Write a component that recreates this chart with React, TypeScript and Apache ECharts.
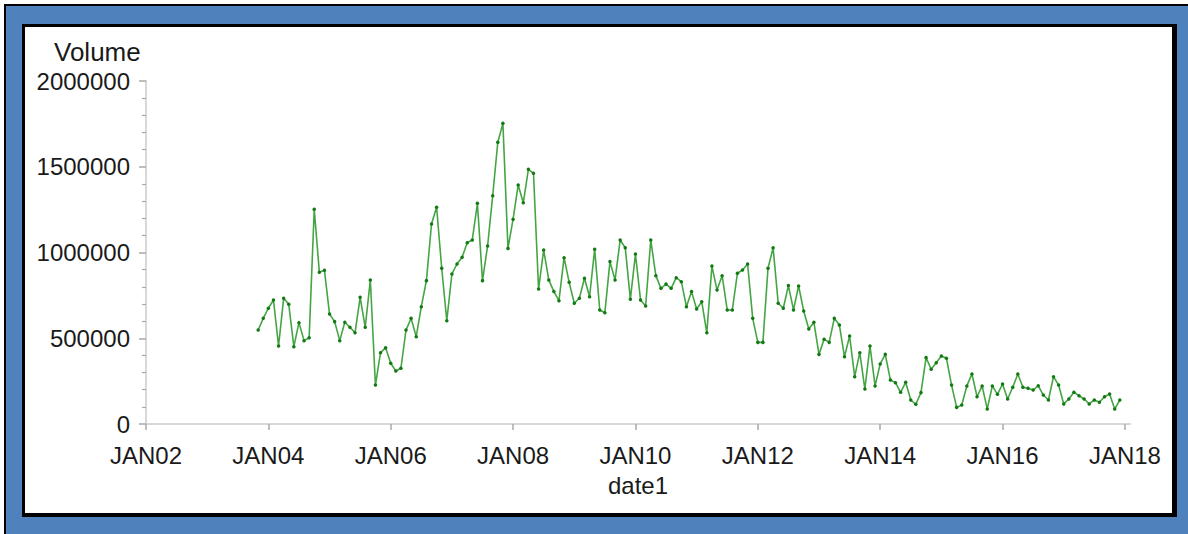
import React, { useEffect, useRef } from "react";
import * as echarts from "echarts";

// Monthly volume, first point = Nov 2003
const startYear = 2003;
const startMonth = 11;
const vol2003 = [548000, 616000];
const vol2004 = [675000, 723000, 455000, 733000, 698000, 451000, 591000, 486000, 503000, 1252000, 885000, 896000];
const vol2005 = [641000, 597000, 486000, 593000, 564000, 532000, 739000, 564000, 840000, 227000, 416000, 445000];
const vol2006 = [354000, 309000, 325000, 548000, 616000, 509000, 684000, 836000, 1166000, 1264000, 908000, 602000];
const vol2007 = [875000, 933000, 972000, 1057000, 1073000, 1287000, 836000, 1038000, 1331000, 1643000, 1753000, 1024000];
const vol2008 = [1194000, 1394000, 1290000, 1485000, 1462000, 787000, 1015000, 840000, 772000, 719000, 970000, 826000];
const vol2009 = [704000, 733000, 850000, 742000, 1019000, 665000, 649000, 947000, 840000, 1073000, 1028000, 727000];
const vol2010 = [991000, 723000, 688000, 1073000, 865000, 791000, 816000, 791000, 853000, 830000, 684000, 772000];
const vol2011 = [671000, 713000, 532000, 921000, 781000, 865000, 665000, 665000, 879000, 898000, 933000, 616000];
const vol2012 = [476000, 476000, 908000, 1028000, 704000, 675000, 807000, 665000, 805000, 659000, 554000, 593000];
const vol2013 = [406000, 494000, 476000, 616000, 577000, 392000, 513000, 276000, 416000, 204000, 455000, 222000];
const vol2014 = [350000, 406000, 257000, 241000, 185000, 243000, 140000, 115000, 183000, 387000, 319000, 357000];
const vol2015 = [397000, 383000, 227000, 97000, 111000, 222000, 292000, 159000, 222000, 87000, 222000, 173000];
const vol2016 = [233000, 146000, 214000, 292000, 214000, 208000, 198000, 223000, 169000, 140000, 276000, 227000];
const vol2017 = [117000, 146000, 185000, 165000, 146000, 117000, 140000, 127000, 159000, 175000, 87000, 140000];

// x axis: months since JAN02
const axisStartYear = 2002;
const xTickMonths = [0, 24, 48, 72, 96, 120, 144, 168, 192];
const xMaxMonth = 193;
const yTicks = [0, 500000, 1000000, 1500000, 2000000];

const volume = [
  ...vol2003, ...vol2004, ...vol2005, ...vol2006, ...vol2007, ...vol2008, ...vol2009,
  ...vol2010, ...vol2011, ...vol2012, ...vol2013, ...vol2014, ...vol2015, ...vol2016, ...vol2017,
];

const FONT = "'Liberation Sans', Arial, sans-serif";
const TEXT = "#1a1a1a";

export default function App() {
  const ref = useRef<HTMLDivElement>(null);
  useEffect(() => {
    if (!ref.current) return;
    const chart = echarts.init(ref.current, undefined, { renderer: "svg" });
    const firstIdx = (startYear - axisStartYear) * 12 + (startMonth - 1);
    const data = volume.map((v, i) => [firstIdx + i, v]);
    chart.setOption({
      animation: false,
      grid: { left: 146, right: 58, top: 81, bottom: 110, containLabel: false },
      graphic: [
        {
          type: "text",
          style: {
            text: "Volume",
            x: 54,
            y: 52,
            verticalAlign: "middle",
            fontSize: 26,
            fontFamily: FONT,
            fill: TEXT,
          },
        },
      ],
      xAxis: [
        {
          type: "value",
          min: 0,
          max: xMaxMonth,
          position: "bottom",
          offset: 3,
          name: "date1",
          nameLocation: "middle",
          nameGap: 46,
          nameTextStyle: { fontSize: 24, fontFamily: FONT, color: TEXT },
          axisLine: { show: true, lineStyle: { color: "#c8c8c8", width: 1.5 } },
          axisTick: { show: true, length: 6, customValues: xTickMonths, lineStyle: { color: "#a8a8a8", width: 1.5 } },
          axisLabel: {
            customValues: xTickMonths,
            margin: 16,
            fontSize: 24,
            fontFamily: FONT,
            color: TEXT,
            formatter: (v: number) => {
              const y = axisStartYear + Math.round(v / 12);
              return "JAN" + String(y % 100).padStart(2, "0");
            },
          },
          splitLine: { show: false },
        },
        {
          type: "value",
          min: 0,
          max: xMaxMonth,
          position: "top",
          axisLine: { show: true, lineStyle: { color: "#d8d8d8", width: 1.5 } },
          axisTick: { show: false },
          axisLabel: { show: false },
          splitLine: { show: false },
        },
      ],
      yAxis: [
        {
          type: "value",
          min: yTicks[0],
          max: yTicks[yTicks.length - 1],
          interval: yTicks[1] - yTicks[0],
          axisLine: { show: true, lineStyle: { color: "#c8c8c8", width: 1.5 } },
          axisTick: { show: true, length: 7, lineStyle: { color: "#a8a8a8", width: 1.5 } },
          minorTick: { show: true, splitNumber: 5, length: 4, lineStyle: { color: "#a8a8a8", width: 1.2 } },
          axisLabel: {
            margin: 16,
            fontSize: 24,
            fontFamily: FONT,
            color: TEXT,
            formatter: (v: number) => String(v),
          },
          splitLine: { show: false },
        },
        {
          type: "value",
          min: 0,
          max: 1,
          position: "right",
          axisLine: { show: true, lineStyle: { color: "#d8d8d8", width: 1.5 } },
          axisTick: { show: false },
          axisLabel: { show: false },
          splitLine: { show: false },
        },
      ],
      series: [
        {
          type: "line",
          xAxisIndex: 0,
          yAxisIndex: 0,
          data,
          symbol: "circle",
          symbolSize: 3.5,
          showSymbol: true,
          lineStyle: { color: "#45a545", width: 1.6 },
          itemStyle: { color: "#137a13" },
          emphasis: { disabled: true },
        },
      ],
    });
    return () => chart.dispose();
  }, []);

  return (
    <div style={{ position: "fixed", left: 0, top: 0, width: 1188, height: 534, background: "#fff", overflow: "hidden" }}>
      <div
        style={{
          position: "absolute",
          left: 4,
          top: 4,
          width: 1190,
          height: 536,
          background: "#4F81BD",
          borderLeft: "2px solid #000",
          borderTop: "2px solid #000",
          boxSizing: "border-box",
        }}
      />
      <div
        style={{
          position: "absolute",
          left: 22,
          top: 24,
          width: 1155,
          height: 493,
          background: "#fff",
          borderStyle: "solid",
          borderColor: "#000",
          borderWidth: "3px 5px 4px 3px",
          boxSizing: "border-box",
        }}
      />
      <div ref={ref} style={{ position: "absolute", left: 0, top: 0, width: 1188, height: 534 }} />
    </div>
  );
}
